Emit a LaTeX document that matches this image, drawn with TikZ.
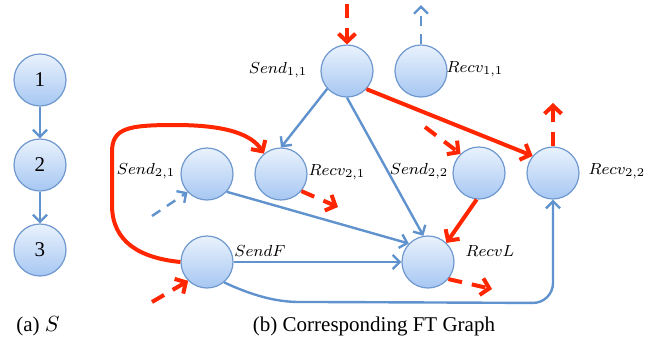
\documentclass[tikz,border=0pt]{standalone}
\usepackage{fontspec}
\setmainfont{Liberation Serif}
\usetikzlibrary{arrows.meta}

\definecolor{nodeline}{RGB}{110,152,206}
\definecolor{nodetop}{RGB}{234,242,253}
\definecolor{nodebot}{RGB}{166,199,242}
\definecolor{flowblue}{RGB}{96,146,206}
\definecolor{faultred}{RGB}{255,38,0}

\tikzset{
	proc/.style = {shape=circle, draw=nodeline, line width=0.6pt, top color=nodetop, bottom color=nodebot, minimum size=26pt, inner sep=0pt, font=\fontsize{10.5}{10.5}\selectfont},
	lbl/.style = {font=\footnotesize},
	flow/.style = {draw=flowblue, line width=1.2pt, -{Straight Barb[length=3.5pt,width=7pt]}},
	flowdash/.style = {flow, dash pattern=on 5pt off 4pt},
	fault/.style = {draw=faultred, line width=2pt, -{Straight Barb[length=4pt,width=8.5pt]}},
	faultdash/.style = {fault, dash pattern=on 7pt off 5pt}
}

\begin{document}
\begin{tikzpicture}[x=0.5pt, y=-0.5pt]
		\useasboundingbox (0,0) rectangle (660,349);

		% (a) S
		\node[proc] (s1) at (40,80) {1};
		\node[proc] (s2) at (40,165) {2};
		\node[proc] (s3) at (40,250) {3};

		\draw[flow] (s1)--(s2);
		\draw[flow] (s2)--(s3);

		% (b) FT graph
		\node[proc] (send11) at (347,71) {};
		\node[proc] (recv11) at (421,71) {};
		\node[proc] (send21) at (207,174) {};
		\node[proc] (recv21) at (281,174) {};
		\node[proc] (send22) at (479,173) {};
		\node[proc] (recv22) at (553,173) {};
		\node[proc] (sendF) at (207,262) {};
		\node[proc] (recvL) at (428,262) {};

		\node[lbl] (l_send11) at (278,70) {$Send_{1,1}$};
		\node[lbl] (l_recv11) at (475,69) {$Recv_{1,1}$};
		\node[lbl] (l_send21) at (146,171) {$Send_{2,1}$};
		\node[lbl] (l_recv21) at (337,172) {$Recv_{2,1}$};
		\node[lbl] (l_send22) at (419,171) {$Send_{2,2}$};
		\node[lbl] (l_recv22) at (617,171) {$Recv_{2,2}$};
		\node[lbl] (l_sendF) at (260,251) {$SendF$};
		\node[lbl] (l_recvL) at (490,251) {$RecvL$};

		\coordinate (in11) at (347,4);
		\coordinate (out11) at (421,5);
		\coordinate (in21) at (152,216);
		\coordinate (out21) at (338,207);
		\coordinate (in22) at (425,127);
		\coordinate (out22) at (553,103);
		\coordinate (inF) at (152,302);
		\coordinate (outL) at (492,289);

		\draw[flow] (send11.222)--(recv21.north);
		\draw[flow] (send11.south)--(recvL.100);
		\draw[flow] (send21.-42)--(recvL.136);
		\draw[flow] (sendF)--(recvL);
		\draw[flow, rounded corners=10pt] (sendF.-50) to[out=-25,in=180] (320,302) -- (553,303) -- (recv22.south);

		\draw[fault] (send11.-43)--(recv22.140);
		\draw[fault] (send22.265)--(recvL.46);
		\draw[fault] (sendF.west) .. controls (140,258) and (112,242) .. (112,205) -- (112,152) .. controls (112,128) and (128,125) .. (175,125) .. controls (228,125) and (252,135) .. (recv21.130);

		\draw[faultdash] (in11)--(send11);
		\draw[flowdash] (recv11)--(out11);
		\draw[flowdash] (in21)--(send21.223);
		\draw[faultdash] (recv21.-40)--(out21);
		\draw[faultdash] (in22)--(send22.134);
		\draw[faultdash] (recv22)--(out22);
		\draw[faultdash] (inF)--(sendF.225);
		\draw[faultdash] (recvL.-40)--(outL);

		\node[font=\fontsize{10.5}{12}\selectfont] (cap_a) at (38,326) {(a) $S$};
		\node[font=\fontsize{10.5}{12}\selectfont] (cap_b) at (374,326) {(b) Corresponding FT Graph};

	\end{tikzpicture}
\end{document}
